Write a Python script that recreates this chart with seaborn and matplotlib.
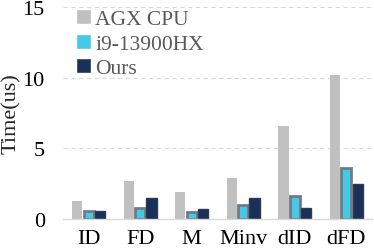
import pandas as pd
import matplotlib.pyplot as plt
import seaborn as sns

categories = ['ID', 'FD', 'M', 'Minv', 'dID', 'dFD']
agx_cpu = [1.3, 2.7, 1.9, 2.9, 6.6, 10.2]
i9_13900hx = [0.6, 0.8, 0.5, 1.0, 1.6, 3.6]
ours = [0.6, 1.5, 0.7, 1.5, 0.8, 2.5]
series = ['AGX CPU', 'i9-13900HX', 'Ours']

df = pd.DataFrame({'cat': categories * 3,
                   'val': agx_cpu + i9_13900hx + ours,
                   'series': [s for s in series for _ in categories]})

sns.set_style('white')
plt.rcParams['font.family'] = ['Liberation Serif', 'DejaVu Serif']

fig = plt.figure(figsize=(3.74, 2.53), dpi=100)
ax = fig.add_axes([0.168, 0.13, 0.827, 0.838])

palette = {'AGX CPU': '#C0C0C0', 'i9-13900HX': '#45C9E6', 'Ours': '#1B2F5B'}
sns.barplot(data=df, x='cat', y='val', hue='series', palette=palette,
            width=0.66, gap=0.1, ax=ax, saturation=1)

# edges like the reference
edges = {'AGX CPU': ('#C0C0C0', 0), 'i9-13900HX': ('#6E7B86', 2.0), 'Ours': ('#2E3A50', 1.0)}
for cont, s in zip(ax.containers, series):
    for bar in cont:
        bar.set_edgecolor(edges[s][0])
        bar.set_linewidth(edges[s][1])

ax.set_ylim(0, 15)
ax.set_yticks([0, 5, 10, 15])
ax.yaxis.grid(True, linestyle=(0, (4, 3)), color='#D9D9D9', linewidth=0.8)
ax.set_axisbelow(True)
for sp in ['top', 'right', 'left']:
    ax.spines[sp].set_visible(False)
ax.spines['bottom'].set_color('#D9D9D9')
ax.spines['bottom'].set_linewidth(1.0)
ax.tick_params(axis='both', length=0, labelsize=16, colors='#000000')
ax.tick_params(axis='y', pad=13)
ax.tick_params(axis='x', pad=7)
ax.set_xlabel('')
ax.set_ylabel('Time(us)', fontsize=16, labelpad=1)

leg = ax.legend(loc='upper left', frameon=False, fontsize=15.5,
                bbox_to_anchor=(0.0, 1.05), handlelength=0.7, handleheight=0.7,
                handletextpad=0.2, labelspacing=0.2, borderaxespad=0.2)
for t in leg.get_texts():
    t.set_color('#595959')

fig.savefig('out.png', dpi=100)
